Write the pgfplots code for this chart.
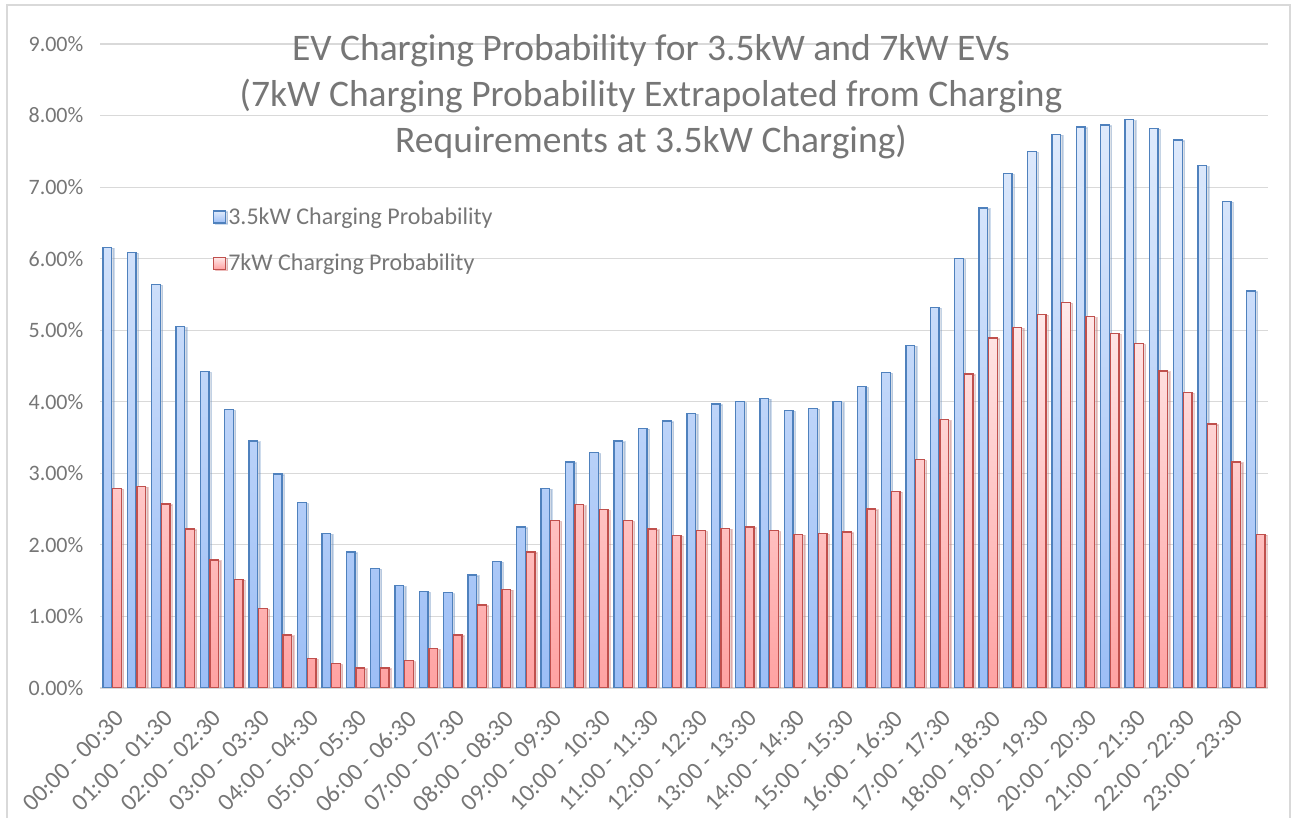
\documentclass[border=0pt]{standalone}
\usepackage{pgfplots}
\pgfplotsset{compat=1.18}
\usepackage{pgfplotstable}
\usetikzlibrary{shadows}
\usepackage{fontspec}
\setmainfont{Carlito}
\definecolor{txtgray}{RGB}{118,118,118}
\definecolor{gridgray}{RGB}{217,217,217}
\definecolor{blueedge}{RGB}{79,129,189}
\definecolor{bluetop}{RGB}{224,235,252}
\definecolor{bluebot}{RGB}{156,190,246}
\definecolor{rededge}{RGB}{192,80,77}
\definecolor{redtop}{RGB}{255,234,234}
\definecolor{redbot}{RGB}{255,162,162}

\pgfplotstableread{
x a b
0 6.16 2.79
1 6.09 2.82
2 5.64 2.57
3 5.05 2.22
4 4.42 1.79
5 3.89 1.52
6 3.45 1.11
7 2.99 0.74
8 2.59 0.41
9 2.16 0.34
10 1.90 0.28
11 1.67 0.28
12 1.43 0.38
13 1.35 0.55
14 1.33 0.74
15 1.58 1.16
16 1.77 1.38
17 2.25 1.90
18 2.79 2.34
19 3.16 2.56
20 3.29 2.49
21 3.45 2.34
22 3.63 2.22
23 3.73 2.13
24 3.84 2.20
25 3.97 2.23
26 4.00 2.25
27 4.05 2.20
28 3.88 2.15
29 3.91 2.16
30 4.00 2.18
31 4.21 2.50
32 4.41 2.75
33 4.79 3.19
34 5.32 3.75
35 6.00 4.39
36 6.71 4.89
37 7.19 5.04
38 7.50 5.22
39 7.74 5.39
40 7.84 5.19
41 7.87 4.95
42 7.94 4.81
43 7.82 4.43
44 7.66 4.13
45 7.30 3.69
46 6.80 3.16
47 5.55 2.15
}\datatable

\begin{document}
\begin{tikzpicture}
\useasboundingbox (0,0) rectangle (1293pt,818pt);
\draw[gridgray, line width=1.2pt] (7pt,-5pt) rectangle (1290pt,813pt);
\begin{axis}[
  at={(100pt,130pt)}, anchor=south west,
  scale only axis, width=1168pt, height=644pt,
  xmin=-0.5, xmax=47.5, ymin=0, ymax=9,
  ybar=0.8pt, bar width=8.8pt,
  axis x line=bottom, axis y line=left,
  x axis line style={draw=gridgray, line width=1.2pt, -},
  y axis line style={draw=none},
  tick style={draw=none},
  ytick={0,1,...,9},
  ymajorgrids, grid style={gridgray, line width=1.2pt},
  /pgf/number format/assume math mode=true,
  yticklabel={\pgfmathprintnumber[fixed,fixed zerofill,precision=2]{\tick}\%},
  yticklabel style={font=\fontsize{22}{26}\selectfont, text=txtgray, xshift=-11pt},
  xtick={0,2,...,46},
  xticklabels={00:00 - 00:30,01:00 - 01:30,02:00 - 02:30,03:00 - 03:30,04:00 - 04:30,05:00 - 05:30,06:00 - 06:30,07:00 - 07:30,08:00 - 08:30,09:00 - 09:30,10:00 - 10:30,11:00 - 11:30,12:00 - 12:30,13:00 - 13:30,14:00 - 14:30,15:00 - 15:30,16:00 - 16:30,17:00 - 17:30,18:00 - 18:30,19:00 - 19:30,20:00 - 20:30,21:00 - 21:30,22:00 - 22:30,23:00 - 23:30},
  xticklabel style={yshift=-17pt, xshift=2pt, font=\fontsize{24.5}{27}\selectfont, text=txtgray, rotate=45, anchor=north east, inner sep=1pt},
  legend style={at={(0.094,0.752)}, anchor=north west, draw=none, fill=none,
     font=\fontsize{24}{28}\selectfont, text=txtgray, row sep=24pt},
  legend cell align=left,
  legend image code/.code={\draw[#1] (0pt,-6pt) rectangle (12pt,6pt);},
]
\addplot[draw=blueedge, line width=1.3pt, top color=bluetop, bottom color=bluebot,
  drop shadow={shadow xshift=2.2pt, shadow yshift=-1pt, opacity=0.28, fill=black!45}] table[x=x,y=a] {\datatable};
\addplot[draw=rededge, line width=1.3pt, top color=redtop, bottom color=redbot,
  drop shadow={shadow xshift=2.2pt, shadow yshift=-1pt, opacity=0.28, fill=black!45}] table[x=x,y=b] {\datatable};
\legend{3.5kW Charging Probability,7kW Charging Probability}
\end{axis}
\node[align=center, text=txtgray, font=\fontsize{37.5}{46}\selectfont] at (651pt,721pt)
  {EV Charging Probability for 3.5kW and 7kW EVs\\(7kW Charging Probability Extrapolated from Charging\\Requirements at 3.5kW Charging)};
\end{tikzpicture}
\end{document}
